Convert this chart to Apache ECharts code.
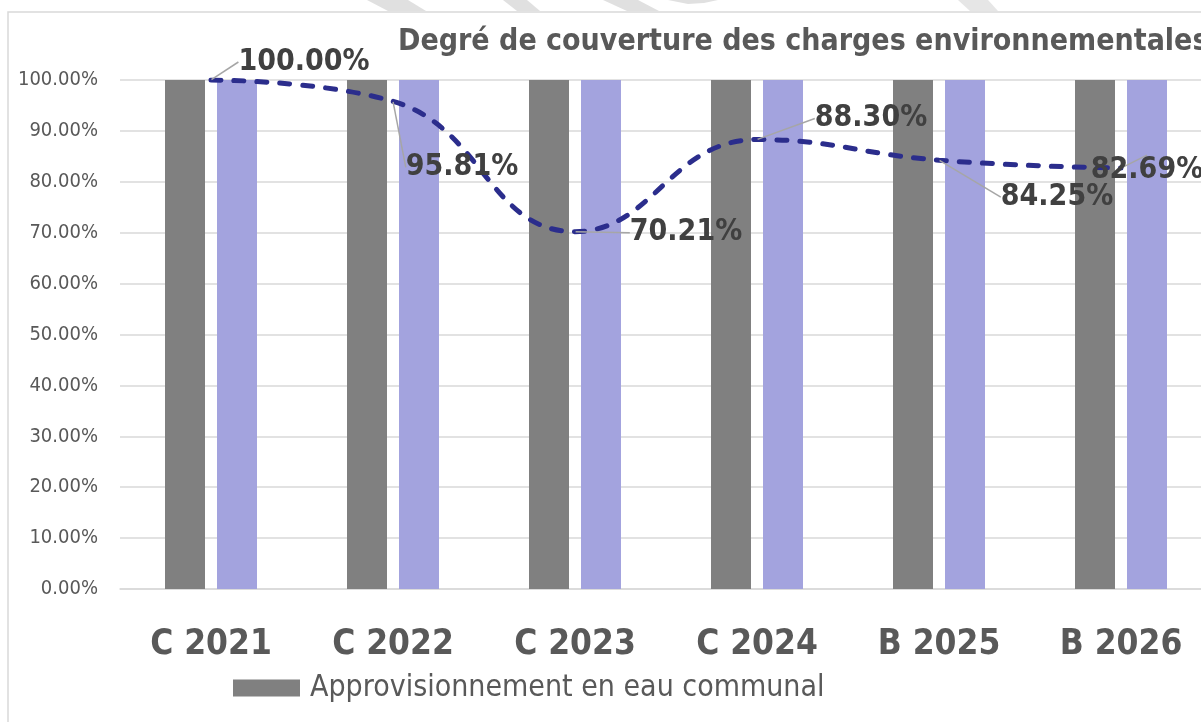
<!DOCTYPE html>
<html>
<head>
<meta charset="utf-8">
<title>Degré de couverture des charges environnementales</title>
<script src="https://cdn.jsdelivr.net/npm/echarts@6/dist/echarts.min.js"></script>
<style>
  html, body { margin: 0; padding: 0; background: #fff; }
  #main { width: 1201px; height: 722px; }
</style>
</head>
<body>
<div id="main"></div>
<script>
// données
var categories = ['C 2021', 'C 2022', 'C 2023', 'C 2024', 'B 2025', 'B 2026']
var eauCommunal = [100, 100, 100, 100, 100, 100]
var serie2 = [100, 100, 100, 100, 100, 100]
var couverture = [100.0, 95.81, 70.21, 88.3, 84.25, 82.69]
var yTicks = [0, 10, 20, 30, 40, 50, 60, 70, 80, 90, 100]

// décalage des étiquettes par rapport au point (px)
var labelShift = [[93, -18], [69, 66], [111, 1], [114, -21], [118, 37], [26, 2]]

var narrow = '"Liberation Sans Narrow", "DejaVu Sans Condensed", "Roboto", sans-serif'

var chart = echarts.init(document.getElementById('main'))

var option = {
  backgroundColor: '#fff',
  animation: false,
  title: {
    text: 'Degré de couverture des charges environnementales',
    left: 398,
    top: 27,
    padding: 0,
    textStyle: { fontFamily: narrow, fontSize: 30, fontWeight: 'bold', color: '#595959' }
  },
  graphic: [
    // cadre du graphique
    { type: 'rect', shape: { x: 8, y: 12, width: 1400, height: 900 },
      style: { fill: 'none', stroke: '#d9d9d9', lineWidth: 1.5 }, z: -1 },
    // bandes en filigrane au-dessus du cadre
    { type: 'polygon', shape: { points: [[367, 0], [408, 0], [426, 11], [388, 11]] }, style: { fill: '#e0e0e0' } },
    { type: 'polygon', shape: { points: [[503, 0], [527, 0], [540, 11], [517, 11]] }, style: { fill: '#e0e0e0' } },
    { type: 'polygon', shape: { points: [[603, 0], [638, 0], [659, 11], [627, 11]] }, style: { fill: '#e0e0e0' } },
    { type: 'polygon', shape: { points: [[668, 0], [718, 0], [704, 3], [688, 4]] }, style: { fill: '#e0e0e0' } },
    { type: 'polygon', shape: { points: [[958, 0], [988, 0], [998, 11], [970, 11]] }, style: { fill: '#e6e6e6' } }
  ],
  legend: {
    data: ['Approvisionnement en eau communal'],
    left: 233,
    top: 673,
    padding: 0,
    itemWidth: 67,
    itemHeight: 17,
    itemGap: 10,
    icon: 'rect',
    textStyle: { fontFamily: narrow, fontSize: 30, color: '#595959', padding: [0, 0, 0, 5] }
  },
  grid: { left: 120, width: 1092, top: 80, bottom: 133, outerBoundsMode: 'none' },
  xAxis: {
    type: 'category',
    data: categories,
    axisTick: { show: false },
    axisLine: { lineStyle: { color: '#d9d9d9', width: 1.5 } },
    axisLabel: { fontFamily: narrow, fontSize: 35, fontWeight: 'bold', color: '#595959', margin: 38 }
  },
  yAxis: {
    type: 'value',
    min: yTicks[0],
    max: yTicks[yTicks.length - 1],
    interval: 10,
    axisLine: { show: false },
    axisTick: { show: false },
    splitLine: { lineStyle: { color: '#d9d9d9', width: 1.5 } },
    axisLabel: {
      fontFamily: narrow, fontSize: 20, color: '#595959', margin: 22,
      formatter: function (v) { return v.toFixed(2) + '%' }
    }
  },
  series: [
    {
      name: 'Approvisionnement en eau communal',
      type: 'bar',
      data: eauCommunal,
      barWidth: 40,
      barGap: '30%',
      itemStyle: { color: '#808080' }
    },
    {
      name: 'Série 2',
      type: 'bar',
      data: serie2,
      barWidth: 40,
      itemStyle: { color: '#a3a3de' }
    },
    {
      name: 'Degré de couverture',
      type: 'line',
      data: couverture,
      smooth: 0.45,
      symbol: 'circle',
      symbolSize: 1,
      itemStyle: { color: '#2b2d8c' },
      lineStyle: { color: '#2b2d8c', width: 5, type: [10, 13], cap: 'round' },
      z: 5,
      label: {
        show: true,
        position: 'inside',
        fontFamily: narrow,
        fontSize: 30,
        fontWeight: 'bold',
        color: '#404040',
        formatter: function (p) { return p.value.toFixed(2) + '%' }
      },
      labelLine: { show: true, lineStyle: { color: '#a6a6a6', width: 1.5 } },
      labelLayout: function (p) {
        var s = labelShift[p.dataIndex]
        return { dx: s[0], dy: s[1] }
      }
    }
  ]
}

chart.setOption(option)
</script>
</body>
</html>
